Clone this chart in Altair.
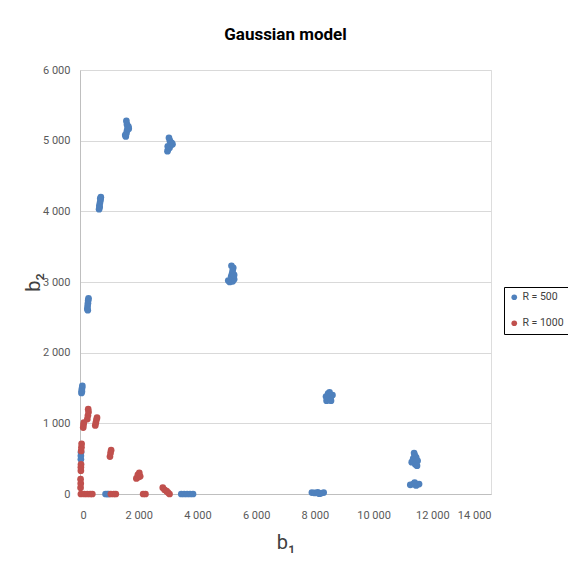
import altair as alt
import pandas as pd

# ---- data ----
series_names = ["R = 500", "R = 1000"]
series_colors = ["#4f81bd", "#c0504d"]

r500_b1 = [1560, 1580, 1600, 1620, 1650, 1600, 1580, 1660, 1540,
           2980, 3000, 3050, 3100, 3120, 3060, 3030, 2990, 3150,
           650, 660, 680, 700, 710, 670, 690,
           5050, 5100, 5200, 5250, 5150, 5180, 5200, 5220, 5160, 5250,
           250, 260, 270, 280, 290, 265,
           50, 60, 70, 80, 65,
           8400, 8450, 8550, 8600, 8450, 8500, 8380, 8550,
           7900, 8000, 8100, 8200, 8300, 8150,
           11300, 11350, 11400, 11450, 11500, 11420, 11380, 11480,
           11250, 11350, 11450, 11550, 11400,
           30, 30, 35,
           870, 930, 980,
           3450, 3550, 3650, 3750, 3850]
r500_b2 = [5060, 5100, 5140, 5180, 5200, 5230, 5280, 5170, 5080,
           4850, 4880, 4900, 4940, 4970, 5000, 5040, 4920, 4950,
           4030, 4080, 4120, 4160, 4200, 4060, 4180,
           3020, 3000, 3010, 3040, 3080, 3120, 3160, 3200, 3230, 3100,
           2620, 2660, 2700, 2740, 2770, 2600,
           1430, 1470, 1500, 1530, 1450,
           1320, 1350, 1380, 1400, 1420, 1440, 1380, 1320,
           20, 15, 25, 10, 20, 5,
           450, 500, 550, 520, 470, 420, 580, 400,
           130, 140, 120, 140, 160,
           490, 540, 590,
           0, 0, 0,
           0, 0, 0, 0, 0]

r1000_b1 = [250, 270, 290, 280,
            520, 540, 560, 580,
            110, 120, 130,
            40, 50, 55,
            30, 30, 35,
            20, 25, 20,
            30, 150, 250, 350, 420,
            1020, 1040, 1060,
            1050, 1150, 1220,
            1920, 1970, 2020, 1990, 2050,
            2150, 2230,
            2820, 2880, 2950, 3000, 3050]
r1000_b2 = [1060, 1110, 1160, 1200,
            970, 1010, 1050, 1080,
            940, 980, 1010,
            610, 660, 710,
            330, 380, 420,
            90, 150, 210,
            0, 0, 0, 0, 0,
            530, 580, 620,
            0, 0, 0,
            220, 270, 300, 240, 250,
            0, 0,
            90, 60, 40, 20, 0]

x_ticks = [0, 2000, 4000, 6000, 8000, 10000, 12000, 14000]
y_ticks = [0, 1000, 2000, 3000, 4000, 5000, 6000]

df = pd.concat([
    pd.DataFrame({"b1": r500_b1, "b2": r500_b2, "series": series_names[0]}),
    pd.DataFrame({"b1": r1000_b1, "b2": r1000_b2, "series": series_names[1]}),
], ignore_index=True)

fmt = "replace(format(datum.value, ','), ',', ' ')"
FONT = "Roboto, Liberation Sans, sans-serif"

chart = alt.Chart(df).mark_circle(size=45, opacity=1).encode(
    x=alt.X("b1:Q", title="b₁",
            scale=alt.Scale(domain=[0, 14000], nice=False),
            axis=alt.Axis(values=x_ticks, labelExpr=fmt, grid=False, ticks=False,
                          labelPadding=15, titlePadding=12, domainColor="#bfbfbf",
                          labelColor="#595959", labelFontSize=11, labelFont=FONT,
                          labelOverlap=False,
                          titleFont=FONT, titleFontSize=20, titleFontWeight="normal",
                          titleColor="#404040")),
    y=alt.Y("b2:Q", title="b₂",
            scale=alt.Scale(domain=[0, 6000], nice=False),
            axis=alt.Axis(values=y_ticks, labelExpr=fmt, grid=True, gridColor="#d9d9d9",
                          ticks=False, labelPadding=10,
                          titleX=-47, titleY=212, titleBaseline="middle", titleAlign="center",
                          domainColor="#bfbfbf", labelColor="#595959", labelFontSize=11,
                          labelFont=FONT, titleFont=FONT, titleFontSize=20,
                          titleFontWeight="normal", titleColor="#404040")),
    color=alt.Color("series:N",
                    scale=alt.Scale(domain=series_names, range=series_colors),
                    legend=alt.Legend(title=None, orient="none", legendX=424, legendY=217,
                                      strokeColor="#000000", padding=5, rowPadding=15,
                                      symbolType="circle", symbolSize=32, labelOffset=3,
                                      labelFont=FONT, labelFontSize=10.5,
                                      labelColor="#404040", symbolStrokeWidth=0)),
    order=alt.Order("idx:Q"),
).transform_window(idx="row_number()").properties(
    width=411, height=424,
    title=alt.TitleParams("Gaussian model", font=FONT, fontSize=17, fontWeight="bold",
                          color="#000000", anchor="middle", offset=20),
    autosize=alt.AutoSizeParams(type="none"),
    padding={"left": 72, "top": 62, "right": 77, "bottom": 76},
).configure_view(stroke=None).configure(background="white")

chart.save("out.html", embed_options={"renderer": "svg", "actions": False})
